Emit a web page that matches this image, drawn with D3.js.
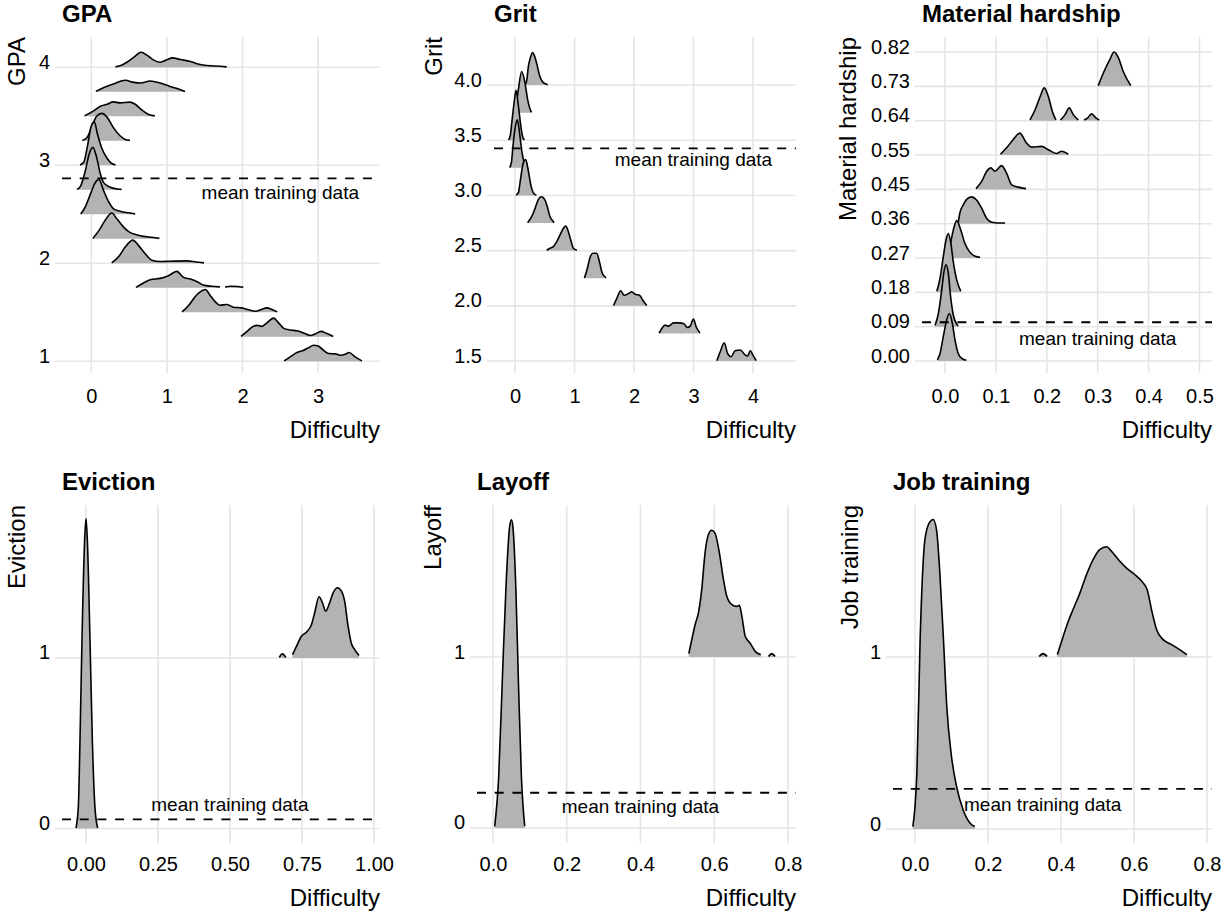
<!DOCTYPE html>
<html><head><meta charset="utf-8">
<script src="https://cdn.jsdelivr.net/npm/d3@7"></script>
<style>
body{margin:0;background:#fff}
svg{display:block}
text{font-family:"Liberation Sans",Arial,Helvetica,sans-serif;fill:#000}
</style>
</head><body>
<svg id="c" width="1231" height="915"></svg>
<script>
// ---------------- DATA ----------------
// each level: list of segments; each segment: list of [difficulty, ridge height (in y units)]
const gpaLevels = [4, 3.75, 3.5, 3.25, 3, 2.75, 2.5, 2.25, 2, 1.75, 1.5, 1.25, 1];
const gpaDensity = [
  [[[0.32,0.003],[0.40,0.02],[0.47,0.05],[0.56,0.10],[0.66,0.153],[0.74,0.12],[0.82,0.075],[0.91,0.051],[1.0,0.075],[1.07,0.095],[1.18,0.078],[1.31,0.058],[1.44,0.027],[1.57,0.014],[1.70,0.010],[1.79,0.003]]],
  [[[0.06,0.003],[0.16,0.041],[0.30,0.082],[0.45,0.116],[0.56,0.095],[0.65,0.088],[0.78,0.109],[0.91,0.088],[1.04,0.054],[1.18,0.020],[1.24,0.003]]],
  [[[-0.09,0.003],[0.03,0.054],[0.12,0.102],[0.21,0.122],[0.29,0.146],[0.38,0.136],[0.51,0.143],[0.58,0.122],[0.67,0.061],[0.75,0.020],[0.84,0.003]]],
  [[[-0.12,0.003],[-0.06,0.03],[0.01,0.15],[0.07,0.25],[0.14,0.279],[0.21,0.238],[0.29,0.136],[0.38,0.05],[0.45,0.012],[0.51,0.003]]],
  [[[-0.15,0.003],[-0.10,0.03],[-0.05,0.2],[0.0,0.4],[0.04,0.442],[0.08,0.32],[0.14,0.17],[0.21,0.068],[0.27,0.017],[0.32,0.003]]],
  [[[-0.19,0.003],[-0.14,0.04],[-0.08,0.19],[-0.03,0.36],[0.02,0.432],[0.07,0.33],[0.12,0.16],[0.16,0.075],[0.25,0.024],[0.34,0.007],[0.40,0.003]]],
  [[[-0.14,0.003],[-0.08,0.075],[-0.01,0.21],[0.05,0.32],[0.10,0.354],[0.16,0.245],[0.23,0.126],[0.29,0.058],[0.38,0.031],[0.49,0.014],[0.58,0.003]]],
  [[[0.02,0.003],[0.10,0.082],[0.18,0.184],[0.27,0.262],[0.34,0.2],[0.43,0.116],[0.51,0.065],[0.60,0.041],[0.69,0.024],[0.80,0.014],[0.90,0.003]]],
  [[[0.27,0.003],[0.36,0.065],[0.45,0.167],[0.55,0.235],[0.62,0.184],[0.71,0.099],[0.80,0.031],[0.91,0.017],[1.04,0.02],[1.26,0.024],[1.39,0.012],[1.49,0.003]]],
  [[[0.59,0.003],[0.69,0.048],[0.78,0.082],[0.91,0.095],[1.02,0.122],[1.13,0.167],[1.22,0.105],[1.31,0.088],[1.40,0.061],[1.48,0.027],[1.59,0.014],[1.70,0.008]],
   [[1.77,0.008],[1.84,0.015],[1.93,0.012],[2.01,0.004]]],
  [[[1.20,0.003],[1.29,0.071],[1.37,0.156],[1.44,0.207],[1.51,0.231],[1.57,0.173],[1.64,0.105],[1.70,0.071],[1.79,0.078],[1.88,0.051],[1.99,0.044],[2.08,0.024],[2.17,0.010],[2.25,0.027],[2.32,0.044],[2.39,0.027],[2.46,0.003]]],
  [[[1.98,0.003],[2.06,0.054],[2.12,0.095],[2.19,0.116],[2.25,0.105],[2.32,0.139],[2.41,0.19],[2.48,0.139],[2.54,0.088],[2.63,0.068],[2.72,0.061],[2.81,0.037],[2.90,0.012],[2.96,0.027],[3.04,0.054],[3.11,0.034],[3.20,0.003]]],
  [[[2.55,0.003],[2.63,0.044],[2.72,0.088],[2.81,0.112],[2.87,0.136],[2.94,0.163],[3.00,0.156],[3.07,0.112],[3.14,0.078],[3.23,0.075],[3.29,0.061],[3.36,0.071],[3.41,0.088],[3.49,0.044],[3.58,0.003]]]
];
const gpaMean = 2.866;
const gpaXTicks = [0, 1, 2, 3];
const gpaXLabels = ["0", "1", "2", "3"];
const gpaYTicks = [1, 2, 3, 4];
const gpaYLabels = ["1", "2", "3", "4"];

const gritLevels = [4, 3.75, 3.5, 3.25, 3, 2.75, 2.5, 2.25, 2, 1.75, 1.5];
const gritDensity = [
  [[[0.17,0.003],[0.20,0.05],[0.224,0.166],[0.26,0.25],[0.297,0.295],[0.33,0.26],[0.364,0.196],[0.42,0.075],[0.476,0.021],[0.55,0.003]]],
  [[[-0.03,0.003],[0.01,0.04],[0.056,0.208],[0.112,0.373],[0.168,0.268],[0.213,0.117],[0.269,0.012],[0.28,0.003]]],
  [[[-0.11,0.003],[-0.08,0.04],[-0.056,0.15],[-0.017,0.33],[0.017,0.452],[0.056,0.316],[0.10,0.12],[0.13,0.03],[0.16,0.003]]],
  [[[-0.09,0.003],[-0.06,0.05],[-0.03,0.22],[0.005,0.37],[0.04,0.434],[0.084,0.283],[0.12,0.13],[0.17,0.027],[0.21,0.003]]],
  [[[0.02,0.003],[0.06,0.03],[0.084,0.114],[0.14,0.295],[0.18,0.325],[0.22,0.235],[0.27,0.084],[0.32,0.015],[0.36,0.003]]],
  [[[0.213,0.003],[0.224,0.012],[0.28,0.057],[0.337,0.133],[0.393,0.214],[0.443,0.238],[0.505,0.208],[0.55,0.133],[0.589,0.057],[0.645,0.012],[0.656,0.003]]],
  [[[0.533,0.003],[0.589,0.021],[0.645,0.036],[0.701,0.081],[0.757,0.142],[0.813,0.202],[0.852,0.223],[0.897,0.172],[0.937,0.096],[0.981,0.021],[1.04,0.003]]],
  [[[1.167,0.003],[1.217,0.09],[1.262,0.19],[1.307,0.226],[1.374,0.226],[1.419,0.15],[1.464,0.05],[1.531,0.003]]],
  [[[1.655,0.003],[1.71,0.066],[1.778,0.136],[1.834,0.096],[1.907,0.111],[1.963,0.127],[2.019,0.105],[2.092,0.096],[2.148,0.051],[2.215,0.003]]],
  [[[2.423,0.003],[2.468,0.045],[2.524,0.075],[2.58,0.066],[2.664,0.096],[2.748,0.096],[2.832,0.09],[2.9,0.054],[2.944,0.066],[3.0,0.13],[3.045,0.06],[3.11,0.003]]],
  [[[3.393,0.003],[3.45,0.084],[3.517,0.166],[3.573,0.069],[3.63,0.039],[3.70,0.093],[3.786,0.1],[3.87,0.054],[3.91,0.045],[3.954,0.093],[3.999,0.054],[4.055,0.003]]]
];
const gritMean = 3.426;
const gritXTicks = [0, 1, 2, 3, 4];
const gritXLabels = ["0", "1", "2", "3", "4"];
const gritYTicks = [1.5, 2, 2.5, 3, 3.5, 4];
const gritYLabels = ["1.5", "2.0", "2.5", "3.0", "3.5", "4.0"];

const mhLevels = [0.7273, 0.6364, 0.5455, 0.4545, 0.3636, 0.2727, 0.1818, 0.0909, 0];
const mhDensity = [
  [[[0.301,0.002],[0.314,0.044],[0.324,0.071],[0.332,0.091],[0.341,0.075],[0.35,0.04],[0.365,0.002]]],
  [[[0.167,0.002],[0.177,0.029],[0.187,0.064],[0.195,0.087],[0.203,0.064],[0.212,0.02],[0.218,0.002]],
   [[0.227,0.002],[0.236,0.016],[0.244,0.034],[0.252,0.016],[0.262,0.002]],
   [[0.273,0.002],[0.28,0.007],[0.288,0.018],[0.297,0.007],[0.303,0.002]]],
  [[[0.109,0.002],[0.121,0.019],[0.134,0.041],[0.147,0.058],[0.16,0.032],[0.17,0.021],[0.19,0.023],[0.203,0.014],[0.219,0.004],[0.229,0.01],[0.242,0.002]]],
  [[[0.061,0.002],[0.072,0.021],[0.082,0.048],[0.09,0.057],[0.098,0.048],[0.111,0.063],[0.121,0.043],[0.131,0.012],[0.144,0.006],[0.159,0.002]]],
  [[[0.026,0.003],[0.029,0.027],[0.036,0.05],[0.043,0.065],[0.052,0.071],[0.062,0.063],[0.072,0.041],[0.082,0.014],[0.092,0.004],[0.105,0.002],[0.118,0.002]]],
  [[[0.0065,0.003],[0.0098,0.03],[0.0163,0.074],[0.023,0.099],[0.031,0.074],[0.039,0.039],[0.048,0.017],[0.059,0.005],[0.069,0.002]]],
  [[[-0.016,0.003],[-0.0098,0.037],[-0.0033,0.095],[0.002,0.139],[0.0065,0.156],[0.011,0.134],[0.0163,0.081],[0.023,0.033],[0.031,0.003]]],
  [[[-0.0196,0.003],[-0.013,0.035],[-0.0065,0.097],[-0.002,0.146],[0.002,0.164],[0.0065,0.141],[0.011,0.08],[0.0163,0.031],[0.023,0.007],[0.026,0.002]]],
  [[[-0.015,0.003],[-0.0098,0.02],[-0.0033,0.065],[0.0033,0.109],[0.0085,0.126],[0.0144,0.1],[0.0196,0.056],[0.026,0.02],[0.033,0.007],[0.042,0.002]]]
];
const mhMean = 0.1026;
const mhXTicks = [0, 0.1, 0.2, 0.3, 0.4, 0.5];
const mhXLabels = ["0.0", "0.1", "0.2", "0.3", "0.4", "0.5"];
const mhYTicks = [0, 0.0909, 0.1818, 0.2727, 0.3636, 0.4545, 0.5455, 0.6364, 0.7273, 0.8182];
const mhYLabels = ["0.00", "0.09", "0.18", "0.27", "0.36", "0.45", "0.55", "0.64", "0.73", "0.82"];

const evLevels = [1, 0];
const evDensity = [
  [[[0.671,0.003],[0.682,0.024],[0.694,0.003]],
   [[0.717,0.02],[0.731,0.069],[0.748,0.127],[0.765,0.151],[0.783,0.196],[0.794,0.265],[0.809,0.359],[0.821,0.324],[0.832,0.275],[0.846,0.324],[0.858,0.382],[0.873,0.412],[0.887,0.392],[0.898,0.333],[0.91,0.186],[0.921,0.088],[0.933,0.049],[0.948,0.014]]],
  [[[-0.0347,0.003],[-0.0266,0.127],[-0.0208,0.52],[-0.0139,1.108],[-0.0046,1.696],[0,1.818],[0.0046,1.696],[0.0139,1.108],[0.022,0.52],[0.031,0.127],[0.0405,0.003]]]
];
const evMean = 0.053;
const evXTicks = [0, 0.25, 0.5, 0.75, 1];
const evXLabels = ["0.00", "0.25", "0.50", "0.75", "1.00"];
const binYTicks = [0, 1];
const binYLabels = ["0", "1"];

const layLevels = [1, 0];
const layDensity = [
  [[[0.531,0.02],[0.539,0.101],[0.548,0.189],[0.557,0.257],[0.566,0.394],[0.575,0.608],[0.584,0.715],[0.593,0.741],[0.602,0.725],[0.614,0.608],[0.625,0.452],[0.634,0.355],[0.648,0.306],[0.661,0.296],[0.668,0.302],[0.675,0.238],[0.684,0.121],[0.697,0.082],[0.711,0.033],[0.726,0.014]],
   [[0.747,0.003],[0.756,0.02],[0.765,0.003]]],
  [[[0.0045,0.01],[0.0154,0.3],[0.025,0.85],[0.036,1.45],[0.045,1.76],[0.05,1.803],[0.054,1.76],[0.062,1.4],[0.069,0.85],[0.077,0.3],[0.086,0.01]]]
];
const layMean = 0.206;
const propXTicks = [0, 0.2, 0.4, 0.6, 0.8];
const propXLabels = ["0.0", "0.2", "0.4", "0.6", "0.8"];

const jobLevels = [1, 0];
const jobDensity = [
  [[[0.34,0.003],[0.351,0.02],[0.362,0.003]],
   [[0.39,0.014],[0.406,0.12],[0.42,0.208],[0.433,0.276],[0.452,0.373],[0.47,0.48],[0.488,0.567],[0.506,0.625],[0.525,0.641],[0.538,0.616],[0.557,0.567],[0.579,0.518],[0.602,0.48],[0.625,0.431],[0.636,0.392],[0.648,0.276],[0.662,0.159],[0.68,0.101],[0.703,0.072],[0.725,0.043],[0.745,0.014]]],
  [[[-0.006,0.014],[0,0.13],[0.005,0.32],[0.014,1.1],[0.027,1.68],[0.039,1.78],[0.05,1.80],[0.059,1.74],[0.068,1.49],[0.078,1.1],[0.087,0.713],[0.1,0.421],[0.114,0.246],[0.132,0.11],[0.151,0.033],[0.164,0.014]]]
];
const jobMean = 0.233;

const panelTitles = ["GPA", "Grit", "Material hardship", "Eviction", "Layoff", "Job training"];
const meanLabel = "mean training data";
const xTitle = "Difficulty";

// ---------------- LAYOUT ----------------
const panels = [
  {title:panelTitles[0], levels:gpaLevels, dens:gpaDensity, mean:gpaMean, lblX:2.5, lblDy:21,
   xt:gpaXTicks, xl:gpaXLabels, yt:gpaYTicks, yl:gpaYLabels,
   x0:62, x1:380, y0:37, y1:366, xd:[-0.388,3.819], yd:[0.951,4.308], yTitleX:25, titleY:22, xTickY:403, xTitleY:438},
  {title:panelTitles[1], levels:gritLevels, dens:gritDensity, mean:gritMean, lblX:3.0, lblDy:18,
   xt:gritXTicks, xl:gritXLabels, yt:gritYTicks, yl:gritYLabels,
   x0:494, x1:796, y0:37, y1:366, xd:[-0.353,4.723], yd:[1.455,4.435], yTitleX:442, titleY:22, xTickY:403, xTitleY:438},
  {title:panelTitles[2], levels:mhLevels, dens:mhDensity, mean:mhMean, lblX:0.30, lblDy:23,
   xt:mhXTicks, xl:mhXLabels, yt:mhYTicks, yl:mhYLabels,
   x0:922, x1:1212, y0:37, y1:366, xd:[-0.0452,0.5246], yd:[-0.0132,0.858], yTitleX:856, titleY:22, xTickY:403, xTitleY:438},
  {title:panelTitles[3], levels:evLevels, dens:evDensity, mean:evMean, lblX:0.5, lblDy:-8,
   xt:evXTicks, xl:evXLabels, yt:binYTicks, yl:binYLabels,
   x0:62, x1:380, y0:505, y1:836, xd:[-0.0833,1.0208], yd:[-0.044,1.897], yTitleX:25, titleY:490, xTickY:871, xTitleY:906},
  {title:panelTitles[4], levels:layLevels, dens:layDensity, mean:layMean, lblX:0.4, lblDy:20,
   xt:propXTicks, xl:propXLabels, yt:binYTicks, yl:binYLabels,
   x0:477, x1:796, y0:505, y1:836, xd:[-0.0434,0.8217], yd:[-0.0468,1.889], yTitleX:441, titleY:490, xTickY:871, xTitleY:906},
  {title:panelTitles[5], levels:jobLevels, dens:jobDensity, mean:jobMean, lblX:0.35, lblDy:22,
   xt:propXTicks, xl:propXLabels, yt:binYTicks, yl:binYLabels,
   x0:893, x1:1212, y0:505, y1:836, xd:[-0.0603,0.8137], yd:[-0.0407,1.884], yTitleX:858, titleY:490, xTickY:871, xTitleY:906}
];

const svg = d3.select("#c");
const GRID = "#e5e5e5", TICKLEN = 7;

panels.forEach(p => {
  const x = d3.scaleLinear().domain(p.xd).range([p.x0, p.x1]);
  const y = d3.scaleLinear().domain(p.yd).range([p.y1, p.y0]);
  const g = svg.append("g");

  // grid + tick marks (same colour)
  g.selectAll(".hg").data(p.yt).join("line")
    .attr("x1", p.x0 - TICKLEN).attr("x2", p.x1)
    .attr("y1", d => y(d)).attr("y2", d => y(d))
    .attr("stroke", GRID).attr("stroke-width", 1.6);
  g.selectAll(".vg").data(p.xt).join("line")
    .attr("x1", d => x(d)).attr("x2", d => x(d))
    .attr("y1", p.y0).attr("y2", p.y1 + TICKLEN)
    .attr("stroke", GRID).attr("stroke-width", 1.6);

  // x axis labels
  const xa = g.append("g").attr("transform", `translate(0,${p.y1})`)
    .call(d3.axisBottom(x).tickValues(p.xt).tickFormat((d,i) => p.xl[i]).tickSize(0));
  xa.select(".domain").remove();
  xa.selectAll("text").attr("y", p.xTickY - p.y1).attr("dy", null)
    .attr("font-size", 20).attr("fill", "#000")
    .style("font-family", '"Liberation Sans",Arial,sans-serif');

  // y axis labels (bottom-aligned to grid line)
  const ya = g.append("g").attr("transform", `translate(${p.x0 - 12},0)`)
    .call(d3.axisLeft(y).tickValues(p.yt).tickFormat((d,i) => p.yl[i]).tickSize(0).tickPadding(0));
  ya.select(".domain").remove();
  ya.selectAll("text").attr("x", 0).attr("dy", 1).attr("text-anchor", "end")
    .attr("font-size", 20).attr("fill", "#000")
    .style("font-family", '"Liberation Sans",Arial,sans-serif');

  // ridges (top level first, lower ones drawn on top)
  const area = d3.area().curve(d3.curveMonotoneX);
  const line = d3.line().curve(d3.curveMonotoneX);
  p.levels.forEach((lev, li) => {
    p.dens[li].forEach(seg => {
      area.x(d => x(d[0])).y0(y(lev)).y1(d => y(lev + d[1]));
      line.x(d => x(d[0])).y(d => y(lev + d[1]));
      g.append("path").attr("d", area(seg)).attr("fill", "#b3b3b3").attr("stroke", "none");
      g.append("path").attr("d", line(seg)).attr("fill", "none")
        .attr("stroke", "#000").attr("stroke-width", 1.6).attr("stroke-linejoin", "round");
    });
  });

  // mean line + label
  g.append("line").attr("x1", p.x0).attr("x2", p.x1)
    .attr("y1", y(p.mean)).attr("y2", y(p.mean))
    .attr("stroke", "#000").attr("stroke-width", 1.8).attr("stroke-dasharray", "9,8.7");
  g.append("text").attr("x", x(p.lblX)).attr("y", y(p.mean) + p.lblDy)
    .attr("text-anchor", "middle").attr("font-size", 19).text(meanLabel);

  // titles
  g.append("text").attr("x", p.x0).attr("y", p.titleY)
    .attr("font-size", 24).attr("font-weight", "bold").text(p.title);
  g.append("text").attr("transform", `translate(${p.yTitleX},${p.y0}) rotate(-90)`)
    .attr("text-anchor", "end").attr("font-size", 24).text(p.title);
  g.append("text").attr("x", p.x1).attr("y", p.xTitleY)
    .attr("text-anchor", "end").attr("font-size", 24).text(xTitle);
});
</script>
</body></html>
